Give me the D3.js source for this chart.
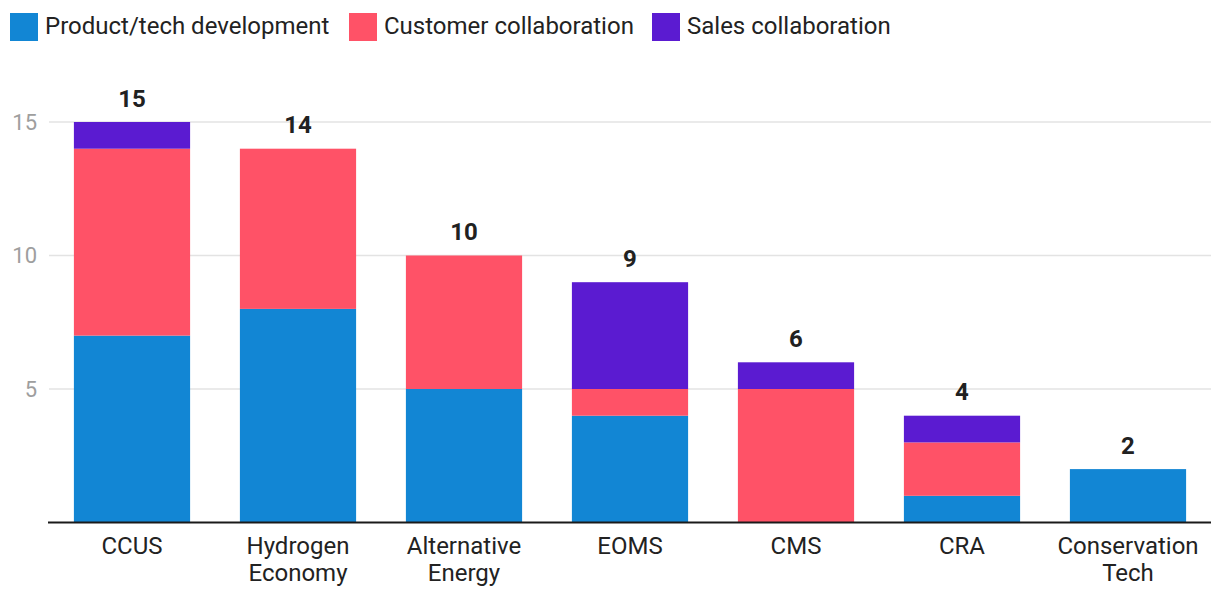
<!DOCTYPE html>
<html><head><meta charset="utf-8">
<script src="https://cdn.jsdelivr.net/npm/d3@7"></script>
<style>body{margin:0;background:#fff;} text{font-family:Roboto,"Noto Sans",sans-serif;}</style>
</head><body>
<svg id="c" width="1220" height="606"></svg>
<script>
const categories = [["CCUS"],["Hydrogen","Economy"],["Alternative","Energy"],["EOMS"],["CMS"],["CRA"],["Conservation","Tech"]];
const seriesNames = ["Product/tech development","Customer collaboration","Sales collaboration"];
const productTech = [7,8,5,4,0,1,2];
const customerCollab = [7,6,5,1,5,2,0];
const salesCollab = [1,0,0,4,1,1,0];
const yTicks = [5,10,15];
const colors = ["#1286D4","#FF5267","#5B1BD1"];

(function(){
const svg = d3.select("#c");
const mLeft=49,mRight=1211,mTop=122,mBottom=522.5;
const keys = categories.map(c=>c.join(" "));
const rows = keys.map((k,i)=>({key:k,a:productTech[i],b:customerCollab[i],c:salesCollab[i]}));
const stack = d3.stack().keys(["a","b","c"])(rows);
const x = d3.scaleBand().domain(keys).range([mLeft,mRight]).paddingInner(0.3).paddingOuter(0.15);
const y = d3.scaleLinear().domain([0,15]).range([mBottom,mTop]);

svg.append("g").selectAll("line").data(yTicks).join("line")
  .attr("x1",mLeft).attr("x2",mRight).attr("y1",d=>y(d)).attr("y2",d=>y(d))
  .attr("stroke","#e3e3e3").attr("stroke-width",1.5);
svg.append("g").selectAll("text").data(yTicks).join("text")
  .attr("x",37).attr("y",d=>y(d)).attr("dy","0.35em").attr("text-anchor","end")
  .attr("font-size",22).attr("fill","#9e9e9e").text(d=>d);

stack.forEach((s,si)=>{
  svg.append("g").selectAll("rect").data(s.filter(d=>d[1]>d[0])).join("rect")
    .attr("x",d=>x(d.data.key)).attr("width",x.bandwidth())
    .attr("y",d=>y(d[1])).attr("height",d=>y(d[0])-y(d[1]))
    .attr("fill",colors[si]);
});

svg.append("g").selectAll("text").data(rows).join("text")
  .attr("x",d=>x(d.key)+x.bandwidth()/2).attr("y",d=>y(d.a+d.b+d.c)-15.5)
  .attr("text-anchor","middle").attr("font-size",24).attr("font-weight","bold").attr("fill","#212121")
  .text(d=>d.a+d.b+d.c);

svg.append("line").attr("x1",mLeft-1).attr("x2",mRight).attr("y1",mBottom).attr("y2",mBottom)
  .attr("stroke","#1a1a1a").attr("stroke-width",2);

const cl = svg.append("g").selectAll("text").data(categories).join("text")
  .attr("x",(d,i)=>x(keys[i])+x.bandwidth()/2).attr("y",554)
  .attr("text-anchor","middle").attr("font-size",24).attr("fill","#222");
cl.selectAll("tspan").data(d=>d).join("tspan")
  .attr("x",function(){return this.parentNode.getAttribute("x");})
  .attr("dy",(d,i)=>i?27:0).text(d=>d);

const legX=[10,349,652];
const lg = svg.append("g").selectAll("g").data(seriesNames).join("g")
  .attr("transform",(d,i)=>`translate(${legX[i]},13)`);
lg.append("rect").attr("width",28).attr("height",28).attr("fill",(d,i)=>colors[i]);
lg.append("text").attr("x",35).attr("y",21).attr("font-size",24).attr("fill","#222").text(d=>d);
})();
</script>
</body></html>
